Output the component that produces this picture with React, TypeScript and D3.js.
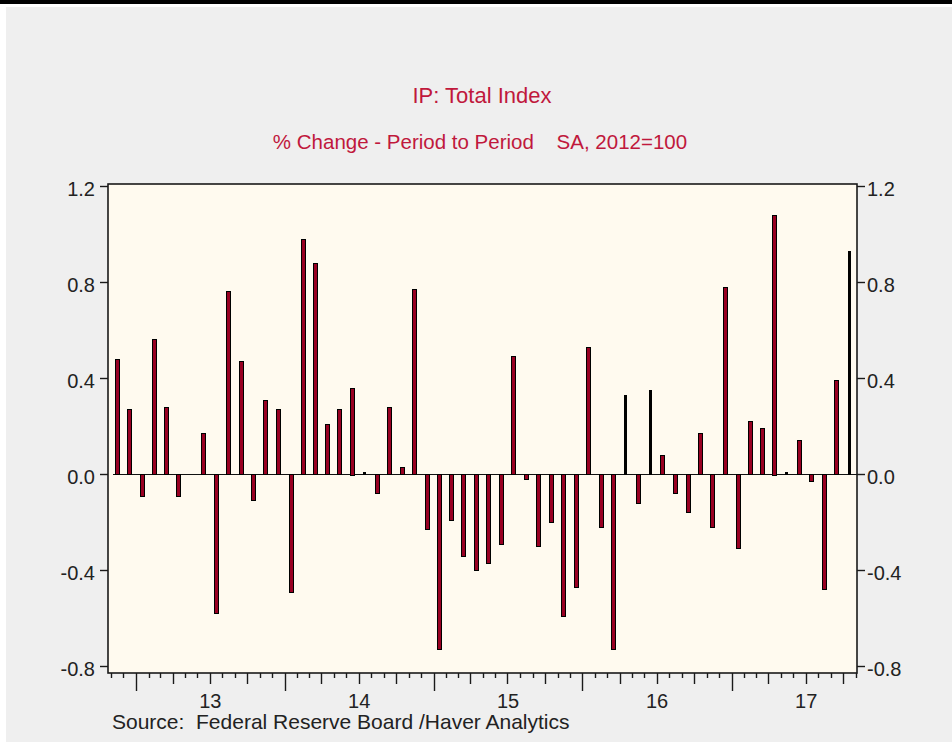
import { useRef, useEffect } from 'react';
import * as d3 from 'd3';

// monthly % change, SA — Nov 2012 .. Oct 2017
const ip2012 = [0.48, 0.27];
const ip2013 = [-0.09, 0.56, 0.28, -0.09, 0.0, 0.17, -0.58, 0.76, 0.47, -0.11, 0.31, 0.27];
const ip2014 = [-0.49, 0.98, 0.88, 0.21, 0.27, 0.36, 0.01, -0.08, 0.28, 0.03, 0.77, -0.23];
const ip2015 = [-0.73, -0.19, -0.34, -0.4, -0.37, -0.29, 0.49, -0.02, -0.3, -0.2, -0.59, -0.47];
const ip2016 = [0.53, -0.22, -0.73, 0.33, -0.12, 0.35, 0.08, -0.08, -0.16, 0.17, -0.22, 0.78];
const ip2017 = [-0.31, 0.22, 0.19, 1.08, 0.01, 0.14, -0.03, -0.48, 0.39, 0.93];

const firstMonth = new Date(2012, 10, 1);
const lastMonthEnd = new Date(2017, 10, 1);
const yearLabels = ['13', '14', '15', '16', '17'];
const yTicks = [-0.8, -0.4, 0.0, 0.4, 0.8, 1.2];
// months whose bar rendered as a plain dark sliver in the original
const thinMonths = ['2014-07', '2016-04', '2016-06', '2017-05', '2017-10'];

const W = 952;
const H = 742;
const PLOT = { left: 108, right: 857, top: 184, bottom: 673 };
const FONT = '"Liberation Sans", Arial, sans-serif';
const TITLE_RED = '#c0183c';
const BAR_RED = '#990022';

export default function App() {
    const svgRef = useRef<SVGSVGElement>(null);

    useEffect(() => {
        if (!svgRef.current) return;
        const svg = d3.select(svgRef.current);
        svg.selectAll('*').remove();

        const values = [...ip2012, ...ip2013, ...ip2014, ...ip2015, ...ip2016, ...ip2017];
        const months = d3.timeMonth.range(firstMonth, lastMonthEnd);
        const fmt = d3.timeFormat('%Y-%m');
        const data = months.map((d, i) => ({ date: d, value: values[i] }));

        const x = d3.scaleTime().domain([firstMonth, lastMonthEnd]).range([111, 855.7]);
        const y = d3.scaleLinear().domain([-0.8, 1.2]).range([666.3, 185.7]);

        // page background
        svg.append('rect').attr('width', W).attr('height', H).attr('fill', '#ffffff');
        svg.append('rect').attr('x', 6).attr('y', 7).attr('width', W - 6).attr('height', H - 7).attr('fill', '#efefef');
        svg.append('rect').attr('width', W).attr('height', 4).attr('fill', '#000');

        // titles
        svg.append('text')
            .attr('x', 482).attr('y', 103)
            .attr('text-anchor', 'middle')
            .attr('font-family', FONT).attr('font-size', '22px')
            .attr('fill', TITLE_RED)
            .text('IP: Total Index');
        svg.append('text')
            .attr('x', 480).attr('y', 149)
            .attr('text-anchor', 'middle')
            .attr('font-family', FONT).attr('font-size', '20.5px')
            .attr('fill', TITLE_RED)
            .style('white-space', 'pre')
            .text('% Change - Period to Period    SA, 2012=100');

        // plot background
        svg.append('rect')
            .attr('x', PLOT.left).attr('y', PLOT.top)
            .attr('width', PLOT.right - PLOT.left).attr('height', PLOT.bottom - PLOT.top)
            .attr('fill', '#fffaef');

        // zero line
        svg.append('line')
            .attr('x1', x(firstMonth) + 2).attr('x2', PLOT.right)
            .attr('y1', Math.round(y(0)) + 0.5).attr('y2', Math.round(y(0)) + 0.5)
            .attr('stroke', '#111').attr('stroke-width', 1.2);

        // bars (a flat 0.0 month draws nothing)
        const thin = new Set(thinMonths);
        svg.append('g').selectAll('rect')
            .data(data.filter(d => d.value !== 0))
            .join('rect')
            .attr('x', d => {
                const c = (x(d.date) + x(d3.timeMonth.offset(d.date, 1))) / 2;
                return Math.round(c - (thin.has(fmt(d.date)) ? 1.5 : 2.5)) + 0.5;
            })
            .attr('width', d => (thin.has(fmt(d.date)) ? 2 : 4))
            .attr('y', d => Math.round(y(Math.max(0, d.value))) + 0.5)
            .attr('height', d => Math.max(1, Math.round(Math.abs(y(d.value) - y(0)))))
            .attr('fill', d => (thin.has(fmt(d.date)) ? '#000' : BAR_RED))
            .attr('stroke', '#000')
            .attr('stroke-width', 1);

        // frame
        svg.append('rect')
            .attr('x', PLOT.left).attr('y', PLOT.top)
            .attr('width', PLOT.right - PLOT.left).attr('height', PLOT.bottom - PLOT.top)
            .attr('fill', 'none')
            .attr('stroke', '#1a1a1a').attr('stroke-width', 1.6);

        // y axes, both sides
        yTicks.forEach(t => {
            const yy = Math.round(y(t)) + 0.5;
            svg.append('line')
                .attr('x1', PLOT.left - 8).attr('x2', PLOT.left)
                .attr('y1', yy).attr('y2', yy)
                .attr('stroke', '#1a1a1a').attr('stroke-width', 1.4);
            svg.append('line')
                .attr('x1', PLOT.right).attr('x2', PLOT.right + 8)
                .attr('y1', yy).attr('y2', yy)
                .attr('stroke', '#1a1a1a').attr('stroke-width', 1.4);
            svg.append('text')
                .attr('x', 95).attr('y', yy + 9)
                .attr('text-anchor', 'end')
                .attr('font-family', FONT).attr('font-size', '20px')
                .attr('fill', '#222')
                .text(t.toFixed(1));
            svg.append('text')
                .attr('x', 867).attr('y', yy + 9)
                .attr('text-anchor', 'start')
                .attr('font-family', FONT).attr('font-size', '20px')
                .attr('fill', '#222')
                .text(t.toFixed(1));
        });

        // x ticks: month / quarter / year
        const tickMonths = d3.timeMonth.range(firstMonth, d3.timeMonth.offset(lastMonthEnd, 1));
        tickMonths.forEach(d => {
            const m = d.getMonth();
            const len = m === 0 ? 18 : m % 3 === 0 ? 11 : 5;
            const xx = Math.round(x(d)) + 0.5;
            svg.append('line')
                .attr('x1', xx).attr('x2', xx)
                .attr('y1', PLOT.bottom).attr('y2', PLOT.bottom + len)
                .attr('stroke', '#1a1a1a').attr('stroke-width', 1.4);
        });

        yearLabels.forEach(lbl => {
            const yr = 2000 + Number(lbl);
            const cx = (x(new Date(yr, 0, 1)) + x(new Date(yr + 1, 0, 1))) / 2;
            svg.append('text')
                .attr('x', cx).attr('y', 708)
                .attr('text-anchor', 'middle')
                .attr('font-family', FONT).attr('font-size', '20px')
                .attr('fill', '#222')
                .text(lbl);
        });

        svg.append('text')
            .attr('x', 112).attr('y', 729)
            .attr('font-family', FONT).attr('font-size', '21px')
            .attr('fill', '#222')
            .style('white-space', 'pre')
            .text('Source:  Federal Reserve Board /Haver Analytics');
    }, []);

    return (
        <div style={{ position: 'absolute', left: 0, top: 0 }}>
            <svg ref={svgRef} width={W} height={H} style={{ display: 'block' }} />
        </div>
    );
}
